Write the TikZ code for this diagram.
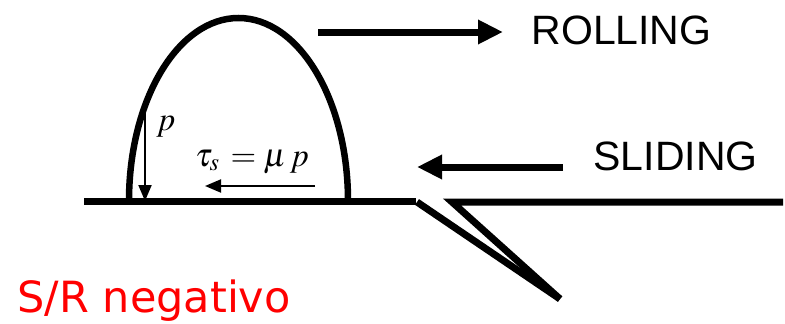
\documentclass[tikz,border=0pt]{standalone}
\usepackage{mathptmx}
\usepackage{fontspec}
\setmainfont{Liberation Sans}
\newfontfamily\redfont{DejaVu Sans}
\usetikzlibrary{arrows.meta}
\definecolor{srred}{RGB}{255,0,0}
\begin{document}
\begin{tikzpicture}[x=1pt, y=-1pt, line width=7pt,
    big arrow/.style={-{Triangle[length=25pt,width=23pt]}},
    small arrow/.style={line width=2pt, -{Triangle[length=16pt,width=13pt]}},
    label/.style={inner sep=0pt, font=\fontsize{41}{48}\selectfont}]
    \useasboundingbox (0,0) rectangle (785,324);
    % ground and crack
    \draw (84,201) coordinate (GL) -- (416,201) coordinate (GC);
    \draw (417,202) coordinate (CL) -- (560,299) coordinate (CT);
    \draw[line join=miter] (CT) -- (452,202) coordinate (CR) -- (783,202) coordinate (GR);
    % contact zone
    \draw[line width=6.5pt] (129,201) arc[start angle=180, end angle=0, x radius=109.5pt, y radius=183pt];
    % texts
    \draw (528,45) node[label, anchor=base west, name=R]{ROLLING};
    \draw (590,170) node[label, anchor=base west, name=S]{SLIDING};
    \draw (14,312) node[inner sep=0pt, anchor=base west, text=srred,
        font=\redfont\fontsize{43}{50}\selectfont, name=N]{S/R negativo};
    \draw (166,130) node[inner sep=0pt, anchor=base, font=\fontsize{33}{38}\selectfont, name=P]{$p$};
    \draw (252,166) node[inner sep=0pt, anchor=base, font=\fontsize{33}{38}\selectfont, name=T]{$\tau_{s}\, = \mu\, p$};
    % arrows
    \draw[big arrow] (318,32) coordinate (RA) --++(185,0);
    \draw[big arrow] (563,167) coordinate (SA) --++(-146,0);
    \draw[small arrow] (145,113) coordinate (PA) -- (PA |- GL);
    \draw[small arrow] (315,186) coordinate (TA) --++(-110,0);
\end{tikzpicture}
\end{document}
